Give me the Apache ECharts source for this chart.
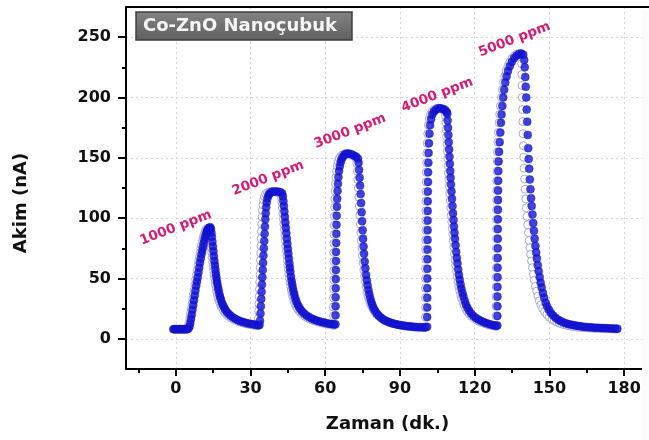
<!DOCTYPE html>
<html>
<head>
<meta charset="utf-8">
<script src="https://cdn.jsdelivr.net/npm/echarts@6/dist/echarts.min.js"></script>
<style>
  html, body { margin: 0; padding: 0; background: #fff; }
  #chart { width: 649px; height: 440px; }
</style>
</head>
<body>
<div id="chart"></div>
<script>
// Sensor current (nA) versus time (min), filled-marker run, one array per gas pulse
const filled1000 = [
  [-1,8],[-0.5,8],[0,8],[0.5,8],[1,8],[1.5,8],[2,8],[2.5,8],[3,8],[3.5,8],[4,8],[4.5,8],[5,8.5],
  [5.5,10],[5.8,13],[6.1,16.5],[6.4,20],[6.7,24],[7,28],[7.3,32],[7.6,36],[7.9,40],[8.2,44],[8.5,47.5],
  [8.8,51],[9.1,55],[9.4,59],[9.7,63],[10,66.5],[10.3,70],[10.6,73],[10.9,76],[11.2,79],[11.5,82],
  [11.8,84.5],[12.1,86.5],[12.4,88.5],[12.7,90],[13,91],[13.4,92],[13.8,92.5],
  [14.1,91],[14.3,88],[14.5,84.5],[14.7,80.5],[14.9,76.5],[15.1,72.5],[15.3,68.5],[15.5,64.5],[15.7,61],
  [15.9,57.5],[16.1,54],[16.3,51],[16.5,48],[16.7,45.5],[16.95,42.5],[17.2,40],[17.5,37],[17.8,34.5],
  [18.1,32.5],[18.5,30],[18.9,28],[19.4,26],[19.9,24],[20.5,22.3],[21.2,20.8],[22,19.2],[23,17.7],
  [24,16.5],[25,15.4],[26,14.6],[27,13.9],[28,13.3],[29,12.8],[30,12.4],[31,12],[32,11.6],[33,11.3]
];
const filled2000 = [
  [33.6,11.5],[33.8,15],[34,21],[34.15,27],[34.3,33],[34.45,39],[34.6,45],[34.75,51],[34.9,57],
  [35.05,63],[35.2,69],[35.35,75],[35.5,81],[35.65,87],[35.8,93],[35.95,99],[36.1,104],[36.3,109],
  [36.5,113],[36.8,116.5],[37.2,119],[37.7,120.5],[38.3,121.5],[39,122],[40,122],[41,122],[42,121.5],[42.7,120.5],
  [43,118],[43.2,114],[43.4,110],[43.6,105.5],[43.8,101],[44,96.5],[44.2,92],[44.4,87.5],[44.6,83],
  [44.8,78.5],[45,74.5],[45.2,70.5],[45.4,66.5],[45.6,62.5],[45.8,59],[46,55.5],[46.25,51.5],[46.5,48],
  [46.75,45],[47,42],[47.3,39],[47.6,36.5],[48,33.5],[48.4,31],[48.9,28.5],[49.4,26.5],[50,24.5],
  [50.7,22.7],[51.5,21],[52.5,19.4],[53.5,18],[54.5,16.9],[55.5,16],[56.5,15.2],[57.5,14.6],[58.5,14],
  [59.5,13.5],[60.5,13],[61.5,12.6],[62.5,12.2],[63.5,11.9]
];
const filled3000 = [
  [64.1,12],[64.13,19.5],[64.16,27],[64.19,34.5],[64.22,42],[64.25,49.5],[64.28,57],[64.31,64.5],
  [64.34,72],[64.4,79.5],[64.46,87],[64.52,94.5],[64.6,102],[64.7,109.5],[64.8,116],[64.95,122.5],
  [65.1,128.5],[65.3,134],[65.55,139],[65.85,143],[66.2,146.5],[66.6,149],[67.1,151],[67.7,152.5],
  [68.5,153.5],[69.5,153.5],[70.5,153],[71.5,152],[72.4,151],[73.1,149.5],
  [73.4,146],[73.6,140],[73.8,133.5],[74,127],[74.2,120],[74.4,112.5],[74.6,105],[74.8,97.5],[75,90],
  [75.2,83],[75.4,76.5],[75.6,70.5],[75.85,64],[76.1,58.5],[76.4,53],[76.7,48.5],[77,44.5],[77.35,40.5],
  [77.7,37],[78.1,33.5],[78.5,30.5],[78.9,28],[79.4,25.5],[80,23.2],[80.7,21],[81.5,19.2],[82.4,17.5],
  [83.3,16.1],[84.2,15],[85.2,14.1],[86.2,13.3],[87.2,12.7],[88.2,12.2],[89.2,11.7],[90.2,11.3],
  [91.2,11],[92.2,10.7],[93.2,10.4],[94.2,10.2],[95.2,10],[96.2,9.8],[97.2,9.7],[98.2,9.6],[99.2,9.5],[100.2,9.4]
];
const filled4000 = [
  [100.9,10],[100.92,18],[100.94,26],[100.96,34],[100.98,42],[101,50],[101.02,58],[101.04,66],
  [101.06,74],[101.08,82],[101.1,90],[101.12,98],[101.14,106],[101.17,114],[101.2,122],[101.25,130],
  [101.3,138],[101.4,146],[101.5,154],[101.65,162],[101.85,170],[102.1,177],[102.5,182],[103,186],
  [103.7,188.5],[104.5,190],[105.4,191],[106.4,191],[107.4,190.5],[108.2,189.5],[108.8,188],
  [109,186.5],[109.15,181],[109.3,175],[109.45,169],[109.6,163],[109.75,157],[109.9,151],[110.05,145],
  [110.2,139],[110.35,133.5],[110.5,128],[110.7,122],[110.9,116],[111.1,110],[111.3,104],[111.5,98.5],
  [111.7,93],[111.9,88],[112.1,83],[112.35,77.5],[112.6,72],[112.85,67],[113.1,62.5],[113.4,57.5],
  [113.7,53],[114,49],[114.35,45],[114.7,41.5],[115.1,38],[115.5,35],[116,31.5],[116.5,28.5],
  [117.1,25.7],[117.8,23.2],[118.6,21],[119.5,19],[120.5,17.3],[121.5,16],[122.5,14.9],[123.5,13.9],
  [124.5,13.1],[125.5,12.4],[126.5,11.8],[127.5,11.3],[128.5,10.9]
];
const filled5000 = [
  [129.1,11],[129.12,19],[129.14,27],[129.16,35],[129.18,43],[129.2,51],[129.22,59],[129.24,67],
  [129.26,75],[129.28,83],[129.3,91],[129.32,99],[129.34,107],[129.37,115],[129.4,123],[129.45,131],
  [129.5,139],[129.6,147],[129.8,155],[130.05,163],[130.3,171],[130.55,179],[130.8,186],[131.1,193],
  [131.45,200],[131.85,206.5],[132.3,212.5],[132.8,217.5],[133.4,222],[134.1,226],[134.9,229.5],
  [135.8,232.5],[136.8,234.5],[137.8,236],[138.7,236.5],[139.5,235.5],
  [139.9,231],[140.1,225],[140.3,217],[140.5,209],[140.7,200],[140.9,190],[141.1,180],[141.3,169],
  [141.5,158],[141.7,149],[141.9,141],[142.15,132],[142.4,124],[142.65,116.5],[142.9,110],[143.2,103],
  [143.5,96],[143.8,89.5],[144.1,83],[144.4,77],[144.7,71.5],[145,66.5],[145.35,61],[145.7,56],
  [146.1,51],[146.5,46.5],[146.9,42.5],[147.4,38],[147.9,34],[148.5,30],[149.1,26.8],[149.8,24],
  [150.6,21.5],[151.5,19.3],[152.5,17.4],[153.5,15.9],[154.5,14.7],[155.5,13.7],[156.5,12.9],
  [157.5,12.3],[158.5,11.8],[159.5,11.4],[160.5,11],[161.5,10.7],[162.5,10.4],[163.5,10.1],
  [164.5,9.9],[165.5,9.7],[166.5,9.5],[167.5,9.3],[168.5,9.2],[169.5,9.1],[170.5,9],[171.5,8.9],
  [172.5,8.8],[173.5,8.7],[174.5,8.6],[175.5,8.5],[176.5,8.4],[177.3,8.4]
];

// Open-marker run, one array per gas pulse
const open1000 = [
  [-0.5,8],[0.5,8],[1.5,8],[2.5,8],[3.5,8],[4.5,8],
  [5,10],[5.3,13],[5.6,17],[5.9,21],[6.2,25],[6.5,29],[6.8,33],[7.1,37],[7.4,41],[7.7,45],[8,49],
  [8.3,53],[8.6,57],[8.9,61],[9.2,64.5],[9.5,68],[9.8,71.5],[10.1,75],[10.4,78],[10.7,81],[11,83.5],
  [11.3,86],[11.6,88],[11.9,89.5],[12.3,91],[12.7,91.5],[13.1,91.5],
  [13.4,90],[13.6,87],[13.8,83.5],[14,79.5],[14.2,75.5],[14.4,71.5],[14.6,67.5],[14.8,63.5],[15,60],
  [15.2,56.5],[15.4,53],[15.6,50],[15.8,47],[16,44.5],[16.25,41.5],[16.5,39],[16.8,36],[17.1,33.5],
  [17.4,31.5],[17.8,29],[18.2,27],[18.7,25],[19.2,23.2],[19.8,21.6],[20.5,20],[21.3,18.6],[22.2,17.3],
  [23.2,16.1],[24.2,15.1],[25.2,14.3],[26.2,13.6],[27.2,13],[28.2,12.5],[29.2,12.1],[30.2,11.7],
  [31.2,11.4],[32.2,11.1],[33,10.9]
];
const open2000 = [
  [33.1,11],[33.2,17],[33.3,23],[33.4,29],[33.5,35],[33.6,41],[33.7,47],[33.8,53],[33.9,59],[34,65],
  [34.1,71],[34.2,77],[34.3,83],[34.4,89],[34.5,95],[34.62,101],[34.78,106.5],[34.98,111],[35.25,115],
  [35.6,118],[36.1,120],[36.8,121.2],[37.6,121.8],[38.5,122],[39.5,122],[40.5,121.5],[41.4,121],[42.1,120],
  [42.4,117],[42.6,113],[42.8,108.5],[43,104],[43.2,99.5],[43.4,95],[43.6,90.5],[43.8,86],[44,81.5],
  [44.2,77],[44.4,73],[44.6,69],[44.8,65],[45,61],[45.2,57.5],[45.4,54],[45.65,50],[45.9,46.5],
  [46.15,43.5],[46.4,40.5],[46.7,37.5],[47,35],[47.4,32],[47.8,29.5],[48.3,27.2],[48.8,25.2],
  [49.4,23.4],[50.1,21.7],[50.9,20.1],[51.9,18.6],[52.9,17.3],[53.9,16.3],[54.9,15.4],[55.9,14.7],
  [56.9,14.1],[57.9,13.5],[58.9,13],[59.9,12.6],[60.9,12.2],[61.9,11.8],[62.9,11.5],[63.6,11.3]
];
const open3000 = [
  [63.3,11.5],[63.32,19],[63.34,26.5],[63.36,34],[63.38,41.5],[63.4,49],[63.42,56.5],[63.44,64],
  [63.46,71.5],[63.5,79],[63.55,86.5],[63.6,94],[63.67,101.5],[63.75,109],[63.85,116],[63.98,122.5],
  [64.13,128.5],[64.32,134],[64.55,139],[64.85,143.5],[65.2,147],[65.65,149.5],[66.2,151.3],[66.9,152.5],
  [67.8,153.2],[68.8,153.2],[69.8,152.8],[70.8,152],[71.7,151],[72.4,149.5],
  [72.7,145.5],[72.9,139],[73.1,132],[73.3,125],[73.5,117.5],[73.7,110],[73.9,102.5],[74.1,95],
  [74.3,88],[74.5,81.5],[74.7,75.5],[74.95,69],[75.2,63],[75.5,57],[75.8,52],[76.1,47.5],[76.45,43],
  [76.8,39],[77.2,35.5],[77.6,32.5],[78.1,29.5],[78.6,27],[79.2,24.6],[79.9,22.4],[80.7,20.4],
  [81.6,18.7],[82.6,17.1],[83.6,15.8],[84.6,14.7],[85.6,13.8],[86.6,13.1],[87.6,12.5],[88.6,12],
  [89.6,11.5],[90.6,11.1],[91.6,10.8],[92.6,10.5],[93.6,10.2],[94.6,10],[95.6,9.8],[96.6,9.7],
  [97.6,9.6],[98.6,9.5],[99.6,9.4]
];
const open4000 = [
  [100.2,10],[100.22,18],[100.24,26],[100.26,34],[100.28,42],[100.3,50],[100.32,58],[100.34,66],
  [100.36,74],[100.38,82],[100.4,90],[100.42,98],[100.44,106],[100.47,114],[100.5,122],[100.55,130],
  [100.6,138],[100.7,146],[100.8,154],[100.95,162],[101.15,170],[101.4,177],[101.8,182],[102.3,186],
  [103,188.5],[103.8,190],[104.7,191],[105.7,191],[106.7,190.5],[107.5,189.5],[108.1,188],
  [108.3,185],[108.45,179.5],[108.6,173.5],[108.75,167.5],[108.9,161.5],[109.05,155.5],[109.2,149.5],
  [109.35,143.5],[109.5,137.5],[109.65,132],[109.8,126.5],[110,120.5],[110.2,114.5],[110.4,108.5],
  [110.6,102.5],[110.8,97],[111,91.5],[111.2,86.5],[111.4,81.5],[111.65,76],[111.9,70.5],[112.15,65.5],
  [112.4,61],[112.7,56],[113,51.5],[113.3,47.5],[113.65,43.5],[114,40],[114.4,36.5],[114.8,33.5],
  [115.3,30.2],[115.8,27.5],[116.4,24.9],[117.1,22.5],[117.9,20.4],[118.8,18.5],[119.8,16.9],
  [120.8,15.6],[121.8,14.5],[122.8,13.6],[123.8,12.8],[124.8,12.1],[125.8,11.5],[126.8,11],
  [127.8,10.6],[128.6,10.3]
];
const open5000 = [
  [128.6,11],[128.62,19],[128.64,27],[128.66,35],[128.68,43],[128.7,51],[128.72,59],[128.74,67],
  [128.76,75],[128.78,83],[128.8,91],[128.82,99],[128.84,107],[128.87,115],[128.9,123],[128.95,131],
  [129,139],[129.1,147],[129.2,155],[129.35,163],[129.55,171],[129.8,179],[130.05,186],[130.35,193],
  [130.7,200],[131.1,206.5],[131.55,212.5],[132.05,217.5],[132.65,222],[133.35,226],[134.15,229.5],
  [135.05,232.5],[136.05,234.5],[137.05,236],[137.95,236.5],[138.6,235.5],
  [138.85,228],[138.95,219],[139.05,210],[139.15,200],[139.25,190],[139.35,180],[139.45,170],
  [139.57,160],[139.7,150.5],[139.85,141.5],[140.05,132.5],[140.25,124],[140.5,116],[140.75,108.5],
  [141,101.5],[141.3,94.5],[141.6,88],[141.9,81.5],[142.2,75.5],[142.5,70],[142.85,64.5],[143.2,59],
  [143.6,53.5],[144,48.5],[144.45,43.5],[144.9,39.5],[145.4,35.5],[146,31.5],[146.6,28.2],[147.3,25.2],
  [148.1,22.5],[149,20.1],[150,18],[151,16.3],[152,15],[153,13.9],[154,13],[155,12.3],[156,11.7],
  [157,11.2],[158,10.8],[159,10.4],[160,10.1],[161,9.8],[162,9.6],[163,9.4],[164,9.2],[165,9.1],
  [166,9],[167,8.9],[168,8.8],[169,8.7],[170,8.6],[171,8.5],[172,8.5],[173,8.4],[174,8.4],[175,8.3],
  [176,8.3],[177,8.2]
];

// Concentration labels and their anchor points in data units (time, current)
const ppmLabels = ['1000 ppm', '2000 ppm', '3000 ppm', '4000 ppm', '5000 ppm'];
const ppmAnchors = [[0, 92], [37, 133], [70, 172], [105, 202], [136, 248]];

// Axis ticks
const xMajorTicks = [0, 30, 60, 90, 120, 150, 180];
const xMinorTicks = [-15, 15, 45, 75, 105, 135, 165];
const yMajorTicks = [0, 50, 100, 150, 200, 250];
const yMinorTicks = [25, 75, 125, 175, 225];

const FONT = 'DejaVu Sans';
const chart = echarts.init(document.getElementById('chart'), null, { renderer: 'canvas' });

const filledData = [].concat(filled1000, filled2000, filled3000, filled4000, filled5000);
const openData = [].concat(open1000, open2000, open3000, open4000, open5000);

const X_MIN = -20, X_MAX = 190, Y_MIN = -25, Y_MAX = 275;
const axisLineStyle = { color: '#000', width: 2 };
const gridLineStyle = { color: '#d6d6d6', type: [2, 3], width: 1 };

chart.setOption({
  animation: false,
  backgroundColor: '#fff',
  grid: { left: 126, right: -8, top: 7, bottom: 71, containLabel: false },
  xAxis: [
    {
      type: 'value', min: X_MIN, max: X_MAX, position: 'bottom',
      axisLine: { show: true, onZero: false, lineStyle: axisLineStyle },
      axisTick: { show: true, customValues: xMajorTicks, length: 7, lineStyle: axisLineStyle },
      axisLabel: {
        customValues: xMajorTicks, margin: 12,
        color: '#111', fontFamily: FONT, fontWeight: 'bold', fontSize: 16
      },
      splitLine: { show: true, lineStyle: gridLineStyle },
      name: 'Zaman (dk.)', nameLocation: 'middle', nameGap: 46,
      nameTextStyle: { color: '#111', fontFamily: FONT, fontWeight: 'bold', fontSize: 18 }
    },
    {
      type: 'value', min: X_MIN, max: X_MAX, position: 'bottom',
      axisLine: { show: false, onZero: false },
      axisTick: { show: true, customValues: xMinorTicks, length: 4, lineStyle: axisLineStyle },
      axisLabel: { show: false },
      splitLine: { show: false }
    },
    {
      type: 'value', min: X_MIN, max: X_MAX, position: 'top',
      axisLine: { show: true, onZero: false, lineStyle: axisLineStyle },
      axisTick: { show: false }, axisLabel: { show: false }, splitLine: { show: false }
    }
  ],
  yAxis: [
    {
      type: 'value', min: Y_MIN, max: Y_MAX, position: 'left',
      axisLine: { show: true, onZero: false, lineStyle: axisLineStyle },
      axisTick: { show: true, customValues: yMajorTicks, length: 8, lineStyle: axisLineStyle },
      axisLabel: {
        customValues: yMajorTicks, margin: 15,
        color: '#111', fontFamily: FONT, fontWeight: 'bold', fontSize: 16
      },
      splitLine: { show: true, lineStyle: gridLineStyle }
    },
    {
      type: 'value', min: Y_MIN, max: Y_MAX, position: 'left',
      axisLine: { show: false, onZero: false },
      axisTick: { show: true, customValues: yMinorTicks, length: 4, lineStyle: axisLineStyle },
      axisLabel: { show: false },
      splitLine: { show: false }
    }
  ],
  series: [
    {
      name: 'open', type: 'scatter', xAxisIndex: 0, yAxisIndex: 0,
      data: openData, symbol: 'circle', symbolSize: 8, z: 2,
      itemStyle: { color: '#ffffff', borderColor: '#9195c8', borderWidth: 1 }
    },
    {
      name: 'filled', type: 'scatter', xAxisIndex: 0, yAxisIndex: 0,
      data: filledData, symbol: 'circle', symbolSize: 8, z: 3,
      itemStyle: { color: '#1414d4', borderColor: '#0d0db8', borderWidth: 0.5 },
      markPoint: {
        symbol: 'circle', symbolSize: 0, silent: true,
        label: {
          show: true, formatter: '{b}', rotate: 21, color: '#d91a72',
          fontFamily: FONT, fontWeight: 'bold', fontSize: 13.5
        },
        data: ppmLabels.map((t, i) => ({ name: t, coord: ppmAnchors[i] }))
      }
    }
  ],
  graphic: [
    {
      type: 'rect', x: 136, y: 12, z: 50,
      shape: { width: 216, height: 28 },
      style: {
        fill: new echarts.graphic.LinearGradient(0, 0, 0, 1, [
          { offset: 0, color: '#848484' }, { offset: 1, color: '#5f5f5f' }
        ]),
        stroke: '#3e3e3e', lineWidth: 1.5
      }
    },
    {
      type: 'text', x: 143, y: 26.5, z: 51,
      style: {
        text: 'Co-ZnO Nanoçubuk', fill: '#f5f5f5',
        font: 'bold 18px "DejaVu Sans"', verticalAlign: 'middle', align: 'left'
      }
    },
    {
      type: 'text', x: 21, y: 203, rotation: Math.PI / 2, z: 51,
      style: {
        text: 'Akim (nA)', fill: '#111',
        font: 'bold 18px "DejaVu Sans"', verticalAlign: 'middle', align: 'center'
      }
    },
    {
      type: 'rect', x: 642, y: 10, z: 60,
      shape: { width: 10, height: 430 },
      style: { fill: '#fbfbfb' }
    }
  ]
});
</script>
</body>
</html>
